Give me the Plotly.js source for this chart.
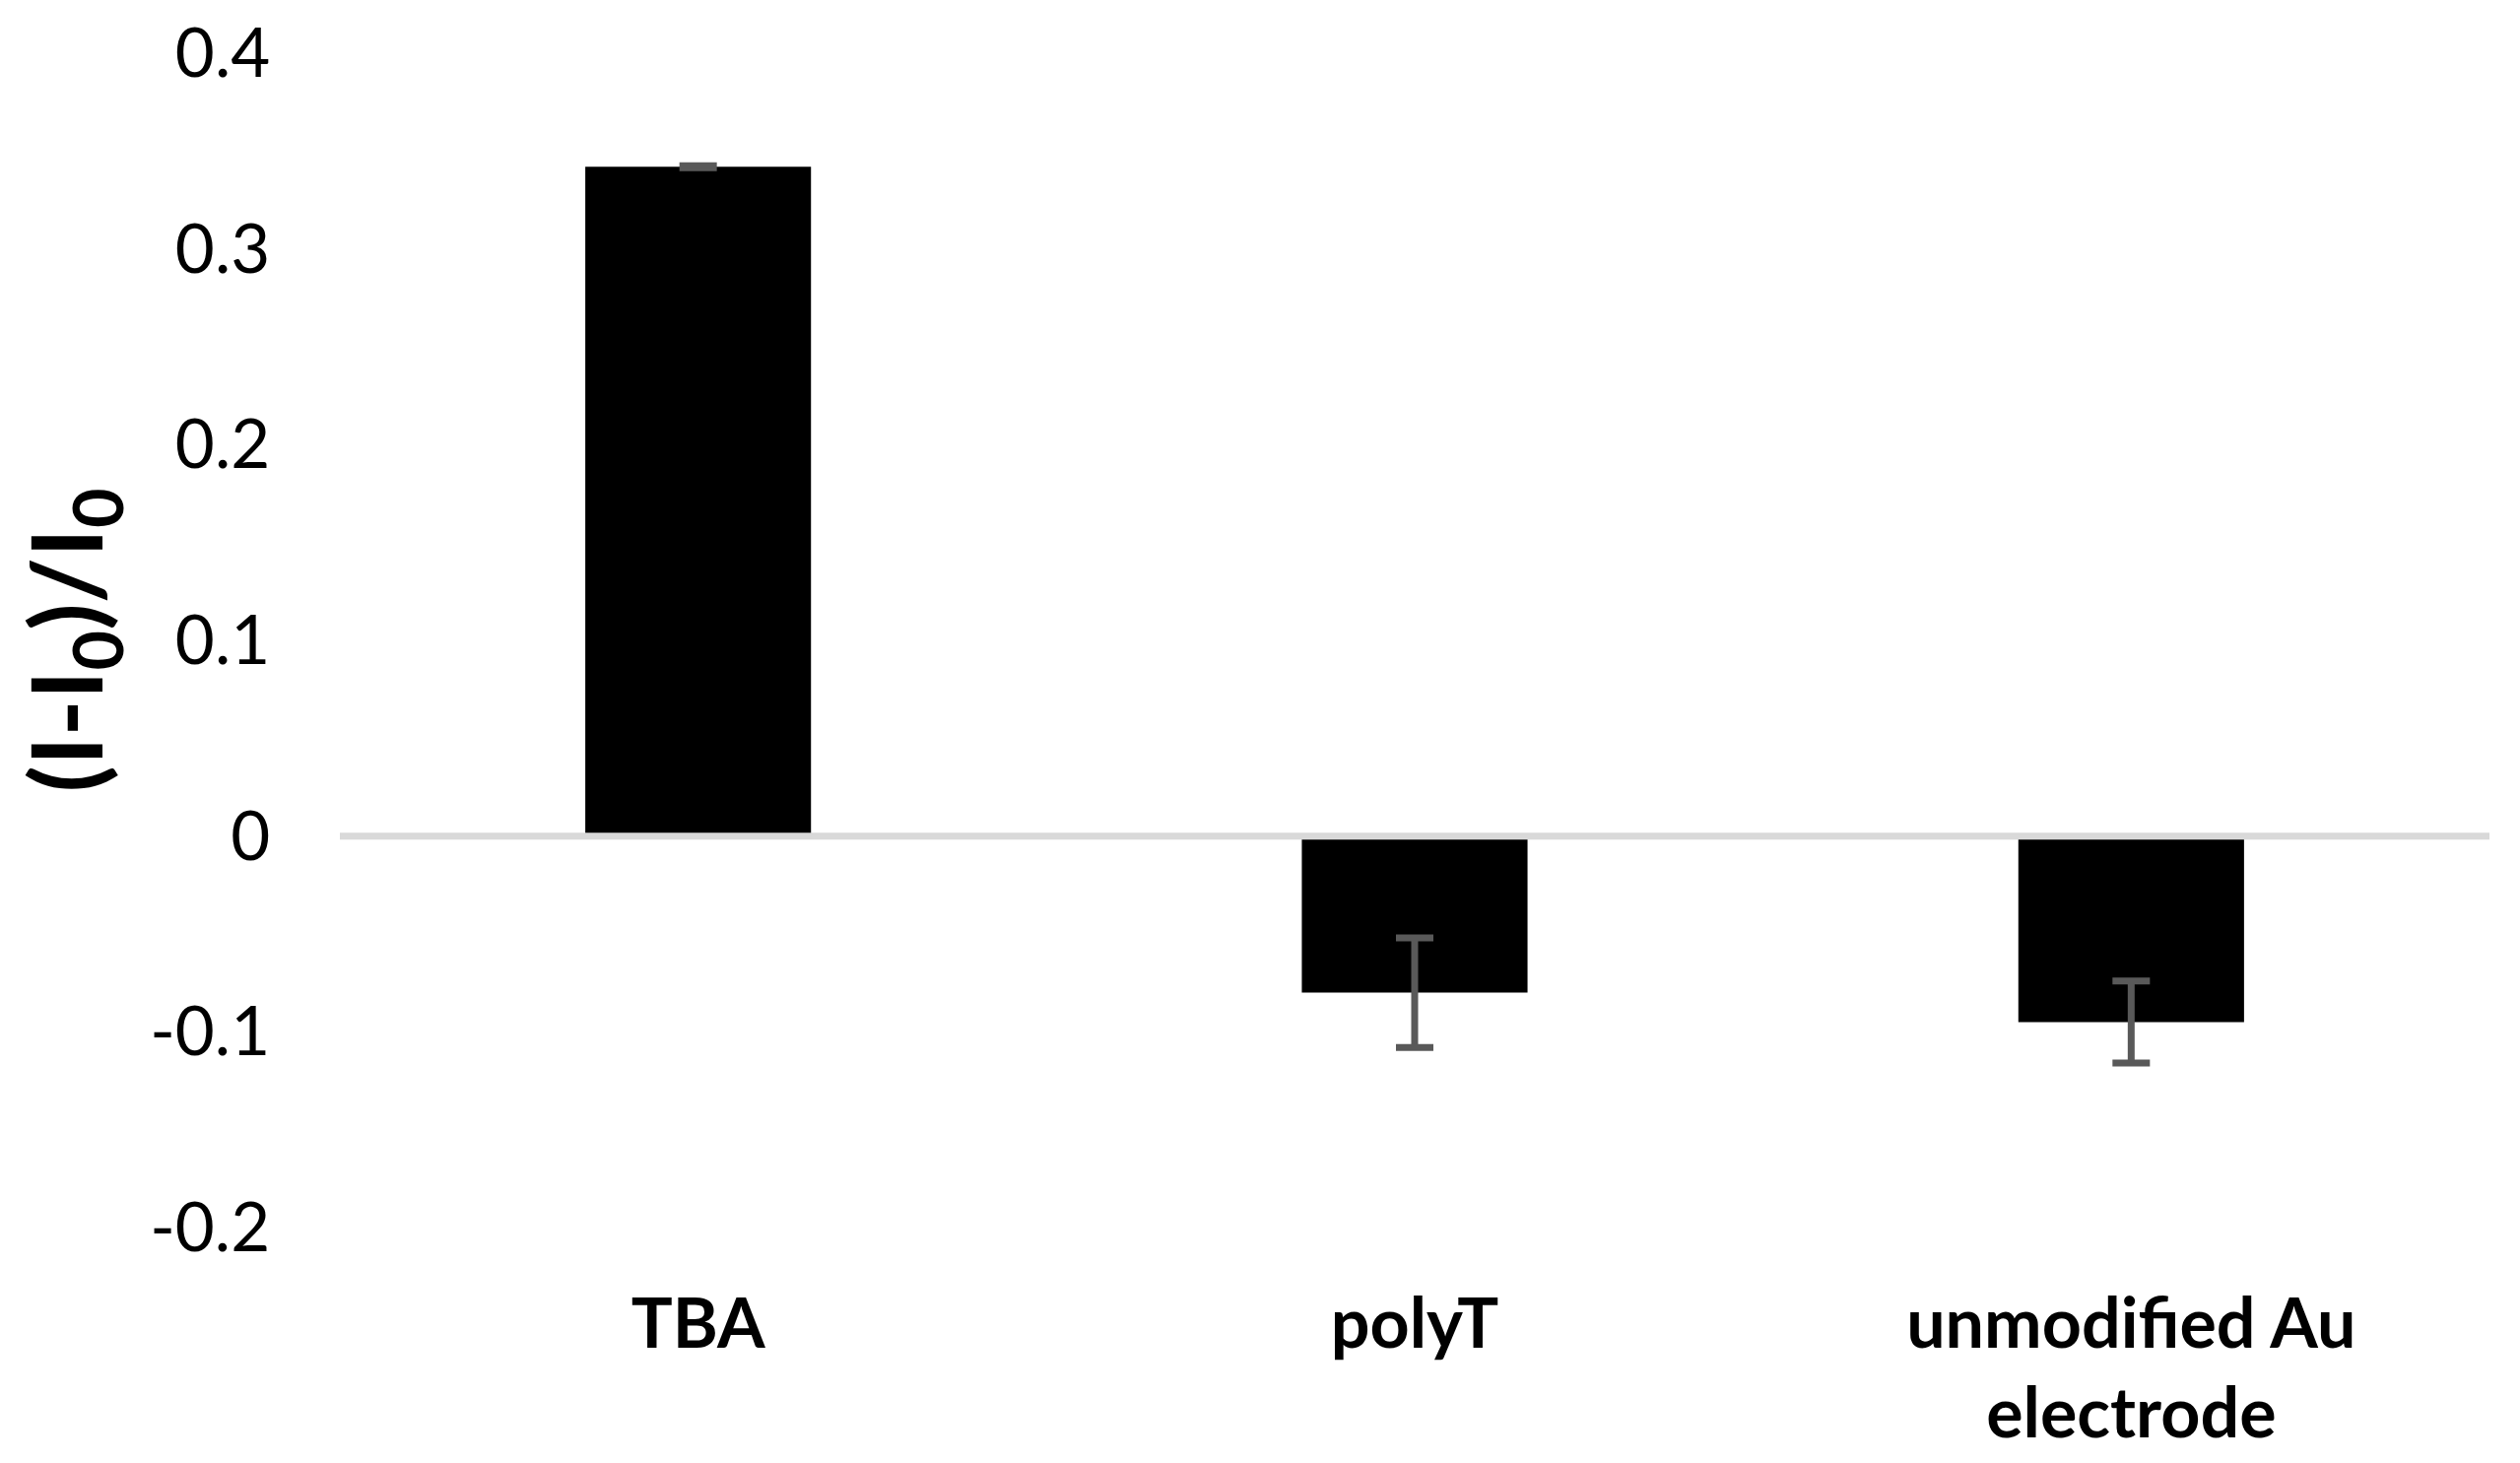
<!DOCTYPE html>
<html>
<head>
<meta charset="utf-8">
<script src="https://cdn.plot.ly/plotly-3.0.1.min.js"></script>
<style>
  html, body { margin: 0; padding: 0; background: #ffffff; }
  #chart { width: 2558px; height: 1485px; }
</style>
</head>
<body>
<div id="chart"></div>
<script>
// ---- data ----
const categories = ["TBA", "polyT", "unmodified Au<br>electrode"];
const values = [0.342, -0.080, -0.095];
const errors = [0.0005, 0.028, 0.021];
const yTickVals = [0.4, 0.3, 0.2, 0.1, 0, -0.1, -0.2];
const yTickText = ["0.4", "0.3", "0.2", "0.1", "0", "-0.1", "-0.2"];
const yTitle = "(I-I<sub>0</sub>)/I<sub>0</sub>";

const trace = {
  type: "bar",
  x: categories,
  y: values,
  marker: { color: "#000000", line: { width: 0 } },
  error_y: {
    type: "data",
    array: errors,
    visible: true,
    color: "#595959",
    thickness: 7,
    width: 19
  },
  hoverinfo: "none"
};

const layout = {
  width: 2558,
  height: 1485,
  paper_bgcolor: "#ffffff",
  plot_bgcolor: "#ffffff",
  showlegend: false,
  bargap: 0.685,
  margin: { l: 345, r: 31, t: 53.5, b: 239, pad: 0 },
  font: { family: "Lato, 'Open Sans', sans-serif", color: "#000000" },
  xaxis: {
    type: "category",
    showgrid: false,
    zeroline: false,
    showline: false,
    ticks: "outside",
    ticklen: 37,
    tickcolor: "rgba(0,0,0,0)",
    tickfont: { family: "Lato", size: 70, weight: "bold", color: "#000000" },
    fixedrange: true
  },
  yaxis: {
    range: [-0.2, 0.4],
    tickvals: yTickVals,
    ticktext: yTickText,
    showgrid: false,
    zeroline: false,
    showline: false,
    ticks: "outside",
    ticklen: 56,
    tickcolor: "rgba(0,0,0,0)",
    tickfont: { family: "Lato", size: 69, color: "#000000" },
    title: {
      text: yTitle,
      font: { family: "Lato", size: 100, weight: "bold", color: "#000000" },
      standoff: 14
    },
    fixedrange: true
  },
  shapes: [{
    type: "line",
    xref: "paper", x0: 0, x1: 1,
    yref: "y", y0: 0, y1: 0,
    line: { color: "#d9d9d9", width: 7 },
    layer: "above"
  }]
};

Plotly.newPlot("chart", [trace], layout, { staticPlot: true, displayModeBar: false });
</script>
</body>
</html>
